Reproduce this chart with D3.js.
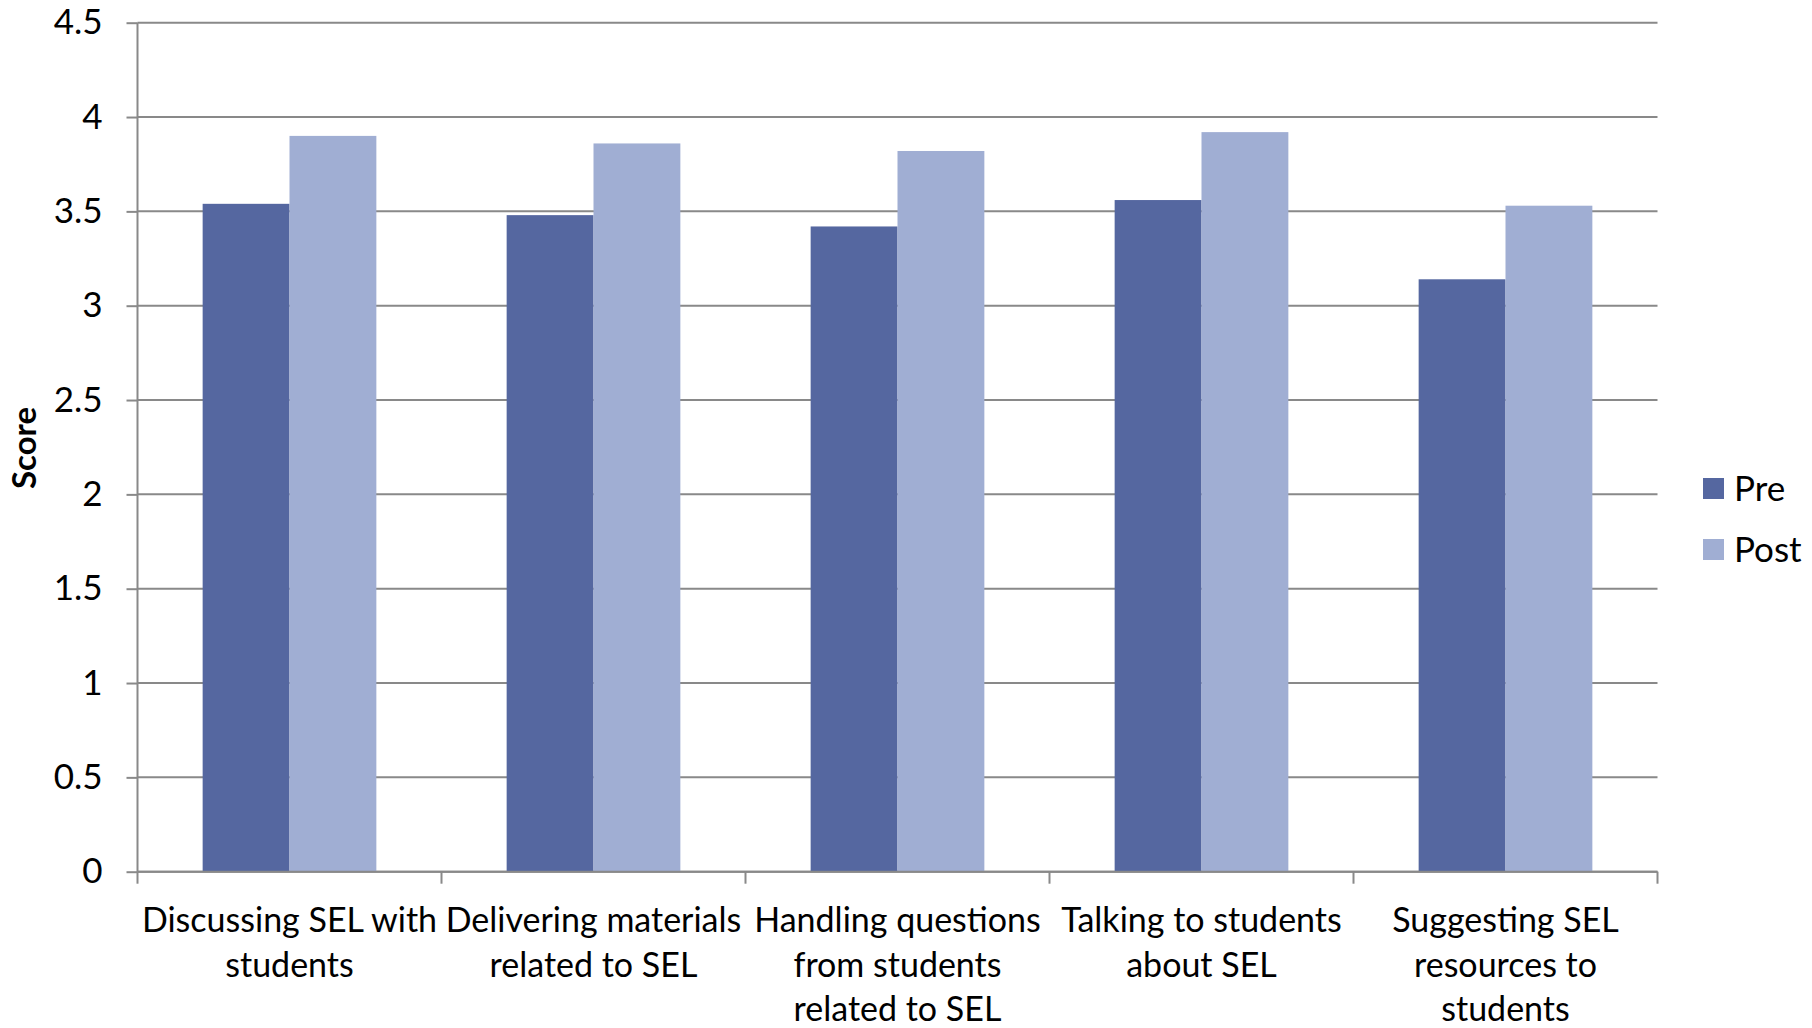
<!DOCTYPE html>
<html>
<head>
<meta charset="utf-8">
<script src="https://cdn.jsdelivr.net/npm/d3@7"></script>
<style>
  html, body { margin: 0; padding: 0; background: #fff; }
  svg text { font-family: Lato, "Open Sans", sans-serif; fill: #000; }
</style>
</head>
<body>
<svg id="chart" width="1812" height="1028"></svg>
<script>
// Category labels, one entry per wrapped line
const categories = [
  "Discussing SEL with students",
  "Delivering materials related to SEL",
  "Handling questions from students related to SEL",
  "Talking to students about SEL",
  "Suggesting SEL resources to students"
];
const categoryLines = [
  ["Discussing SEL with", "students"],
  ["Delivering materials", "related to SEL"],
  ["Handling questions", "from students", "related to SEL"],
  ["Talking to students", "about SEL"],
  ["Suggesting SEL", "resources to", "students"]
];
const seriesNames = ["Pre", "Post"];
const preValues  = [3.54, 3.48, 3.42, 3.56, 3.14];
const postValues = [3.90, 3.86, 3.82, 3.92, 3.53];
const yTicks = [0, 0.5, 1, 1.5, 2, 2.5, 3, 3.5, 4, 4.5];
const yTickLabels = ["0", "0.5", "1", "1.5", "2", "2.5", "3", "3.5", "4", "4.5"];
const yTitle = "Score";

const colors = { Pre: "#5567a0", Post: "#a0aed3" };
const gridColor = "#898989";
const fontSize = 34;

const plot = { left: 137.5, right: 1657.5, top: 22.7, bottom: 871.7 };

const svg = d3.select("#chart");

const x = d3.scaleBand().domain(categories).range([plot.left, plot.right]).padding(0);
const bw = x.bandwidth();
// 150% gap width between clusters
const groupW = bw * 2 / 3.5;
const x1 = d3.scaleBand().domain(seriesNames)
  .range([(bw - groupW) / 2, (bw + groupW) / 2]).padding(0);
const y = d3.scaleLinear().domain([0, 4.5]).range([plot.bottom, plot.top]);

// Horizontal gridlines
svg.append("g").selectAll("line").data(yTicks).join("line")
  .attr("x1", plot.left).attr("x2", plot.right)
  .attr("y1", d => y(d)).attr("y2", d => y(d))
  .attr("stroke", gridColor).attr("stroke-width", 2);

// Bars
const rows = categories.map((c, i) => ({ cat: c, Pre: preValues[i], Post: postValues[i] }));
const groups = svg.append("g").selectAll("g").data(rows).join("g")
  .attr("transform", d => `translate(${x(d.cat)},0)`);
groups.selectAll("rect").data(d => seriesNames.map(s => ({ s, v: d[s] }))).join("rect")
  .attr("x", d => x1(d.s))
  .attr("width", x1.bandwidth())
  .attr("y", d => y(d.v))
  .attr("height", d => y(0) - y(d.v))
  .attr("fill", d => colors[d.s]);

// Y axis
const yAxis = d3.axisLeft(y).tickValues(yTicks)
  .tickFormat((d, i) => yTickLabels[i]).tickSize(11).tickPadding(24);
const gy = svg.append("g").attr("transform", `translate(${plot.left},0)`).call(yAxis);
gy.select(".domain").attr("stroke", gridColor).attr("stroke-width", 2)
  .attr("d", `M0,${plot.top}V${plot.bottom}`);
gy.selectAll(".tick line").attr("stroke", gridColor).attr("stroke-width", 2);
gy.selectAll(".tick text").style("font-size", "35px")
  .style("font-family", "Lato, 'Open Sans', sans-serif").attr("fill", "#000");

// X axis line and cluster boundary ticks
svg.append("line")
  .attr("x1", plot.left).attr("x2", plot.right)
  .attr("y1", y(0)).attr("y2", y(0))
  .attr("stroke", gridColor).attr("stroke-width", 2);
const bounds = categories.map(c => x(c)).concat([x.range()[1]]);
svg.append("g").selectAll("line").data(bounds).join("line")
  .attr("x1", d => d).attr("x2", d => d)
  .attr("y1", y(0)).attr("y2", y(0) + 12)
  .attr("stroke", gridColor).attr("stroke-width", 2);

// Category labels
const lab = svg.append("g").selectAll("text").data(categories).join("text")
  .attr("x", d => x(d) + bw / 2)
  .attr("y", 932)
  .attr("text-anchor", "middle")
  .style("font-size", fontSize + "px");
lab.selectAll("tspan").data((d, i) => categoryLines[i]).join("tspan")
  .attr("x", function () { return d3.select(this.parentNode).attr("x"); })
  .attr("dy", (d, i) => i === 0 ? 0 : 44.5)
  .text(d => d);

// Y axis title
svg.append("text")
  .attr("transform", `translate(36,448) rotate(-90)`)
  .attr("text-anchor", "middle")
  .style("font-size", "33px").style("font-weight", "bold")
  .text(yTitle);

// Legend
const legend = svg.append("g").selectAll("g").data(seriesNames).join("g")
  .attr("transform", (d, i) => `translate(1703,${478 + i * 61})`);
legend.append("rect").attr("width", 21).attr("height", 21).attr("fill", d => colors[d]);
legend.append("text").attr("x", 31).attr("y", 10.5).attr("dy", "0.35em")
  .style("font-size", "35px").text(d => d);
</script>
</body>
</html>
